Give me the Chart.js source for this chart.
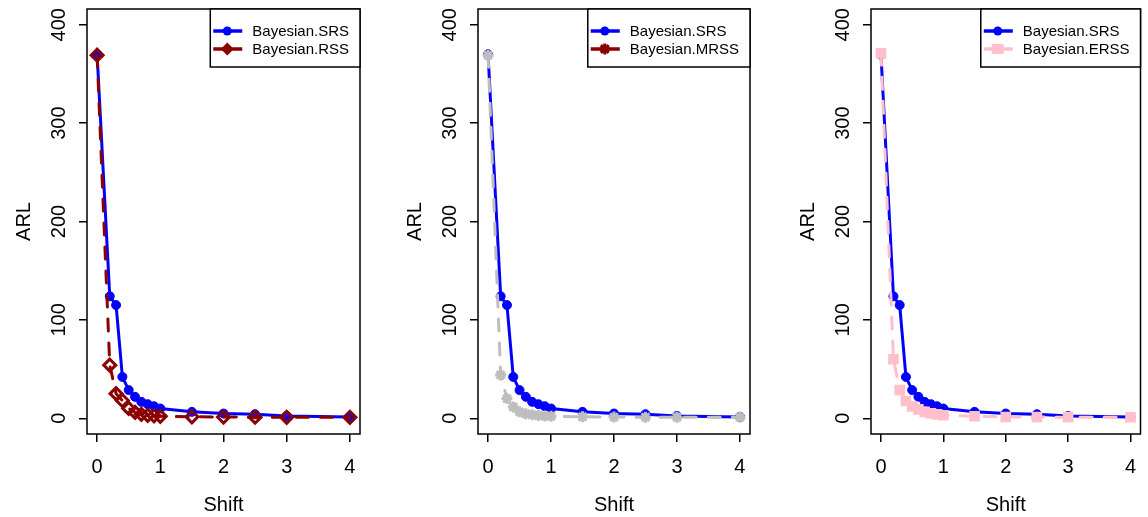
<!DOCTYPE html>
<html>
<head>
<meta charset="utf-8">
<script src="https://cdn.jsdelivr.net/npm/chart.js@4.4.1/dist/chart.umd.min.js"></script>
<style>
  html, body { margin: 0; padding: 0; background: #fff; }
  body { width: 1148px; height: 517px; position: relative; overflow: hidden; }
  .panel { position: absolute; top: 0; height: 517px; }
</style>
</head>
<body>
<div class="panel" style="left:0;width:383px"><canvas id="c1"></canvas></div>
<div class="panel" style="left:383px;width:383px"><canvas id="c2"></canvas></div>
<div class="panel" style="left:766px;width:382px"><canvas id="c3"></canvas></div>
<script>
// shift values and ARL
const shift   = [0, 0.2, 0.3, 0.4, 0.5, 0.6, 0.7, 0.8, 0.9, 1, 1.5, 2, 2.5, 3, 4];
const arlSRS  = [370, 124, 115, 42, 28.6, 21.8, 16.7, 14.3, 12.2, 9.9, 6.5, 4.8, 4.1, 2.4, 1.4];
const arlRSS  = [369, 54, 25, 18, 10, 6, 4, 3, 2.5, 2, 1.5, 1.2, 1.1, 1.0, 1.0];
const arlMRSS = [369, 44, 20, 11.5, 6.5, 4.5, 3.5, 2.8, 2.3, 2, 1.5, 1.2, 1.1, 1.0, 1.0];
const arlERSS = [371, 60, 28.6, 17.5, 12, 9, 6.5, 5, 4, 3, 2, 1.3, 1.2, 1.1, 1.0];

const xTicks = [0, 1, 2, 3, 4];
const yTicks = [0, 100, 200, 300, 400];
const xTitle = "Shift";
const yTitle = "ARL";

const FONT = '"Liberation Sans", Arial, sans-serif';

function drawMarker(ctx, kind, x, y, color) {
  ctx.save();
  ctx.fillStyle = color;
  ctx.strokeStyle = color;
  ctx.beginPath();
  if (kind === "circle") {
    ctx.arc(x, y, 4.5, 0, Math.PI * 2);
    ctx.fill();
  } else if (kind === "diamond") {
    ctx.moveTo(x, y - 6.5); ctx.lineTo(x + 6.5, y); ctx.lineTo(x, y + 6.5); ctx.lineTo(x - 6.5, y);
    ctx.closePath();
    ctx.fill();
  } else if (kind === "star") {
    ctx.lineWidth = 3;
    const r = 5.5, d = r * Math.SQRT1_2;
    ctx.moveTo(x - r, y); ctx.lineTo(x + r, y);
    ctx.moveTo(x, y - r); ctx.lineTo(x, y + r);
    ctx.moveTo(x - d, y - d); ctx.lineTo(x + d, y + d);
    ctx.moveTo(x - d, y + d); ctx.lineTo(x + d, y - d);
    ctx.stroke();
  } else if (kind === "square") {
    ctx.fillRect(x - 6, y - 5, 12, 10);
  }
  ctx.restore();
}

// box, tick labels, axis titles and legend, like base R graphics
const framePlugin = {
  id: "frame",
  afterDraw(chart) {
    const ctx = chart.ctx;
    const ca = chart.chartArea;
    const xs = chart.scales.x, ys = chart.scales.y;
    ctx.save();
    ctx.strokeStyle = "#000";
    ctx.lineWidth = 1.5;
    ctx.strokeRect(ca.left, ca.top, ca.right - ca.left, ca.bottom - ca.top);

    ctx.fillStyle = "#000";
    ctx.font = "20px " + FONT;
    ctx.textAlign = "center";
    ctx.textBaseline = "alphabetic";
    xTicks.forEach((v) => {
      ctx.fillText(String(v), xs.getPixelForValue(v), 473);
    });
    yTicks.forEach((v) => {
      ctx.save();
      ctx.translate(ca.left - 22, ys.getPixelForValue(v));
      ctx.rotate(-Math.PI / 2);
      ctx.fillText(String(v), 0, 0);
      ctx.restore();
    });

    ctx.font = "20px " + FONT;
    ctx.fillText(xTitle, (ca.left + ca.right) / 2, 511);
    ctx.save();
    ctx.translate(ca.left - 57, (ca.top + ca.bottom) / 2);
    ctx.rotate(-Math.PI / 2);
    ctx.fillText(yTitle, 0, 0);
    ctx.restore();

    // legend
    const entries = chart.options.plugins.frame.entries;
    ctx.font = "15px " + FONT;
    const maxW = Math.max(...entries.map((e) => ctx.measureText(e.label).width));
    const textX = ca.right - 11 - maxW;
    const boxL = textX - 42;
    ctx.fillStyle = "#fff";
    ctx.fillRect(boxL, ca.top, ca.right - boxL, 58);
    ctx.strokeStyle = "#000";
    ctx.lineWidth = 1.5;
    ctx.strokeRect(boxL, ca.top, ca.right - boxL, 58);
    entries.forEach((e, i) => {
      const yy = ca.top + 22 + i * 18;
      ctx.strokeStyle = e.color;
      ctx.lineWidth = 3.5;
      ctx.beginPath();
      ctx.moveTo(textX - 39, yy);
      ctx.lineTo(textX - 10, yy);
      ctx.stroke();
      drawMarker(ctx, e.marker, textX - 25, yy, e.color);
      ctx.fillStyle = "#000";
      ctx.textAlign = "left";
      ctx.textBaseline = "middle";
      ctx.fillText(e.label, textX, yy + 1);
    });
    ctx.restore();
  },
};

function points(values) {
  return shift.map((x, i) => ({ x: x, y: values[i] }));
}

function makePanel(canvasId, boxLeft, padRight, other) {
  const srs = {
    label: "Bayesian.SRS",
    data: points(arlSRS),
    borderColor: "#0000FF",
    backgroundColor: "#0000FF",
    borderWidth: 3,
    pointStyle: "circle",
    pointRadius: 4.5,
    pointBorderWidth: 1,
    pointBackgroundColor: "#0000FF",
    pointBorderColor: "#0000FF",
    tension: 0,
    order: 2,
  };
  const second = {
    label: other.label,
    data: points(other.values),
    borderColor: other.color,
    backgroundColor: other.fill,
    borderWidth: 3,
    borderDash: [12, 12],
    borderCapStyle: "round",
    pointStyle: other.pointStyle,
    pointRadius: other.radius,
    pointBorderWidth: other.pointBorder,
    pointBackgroundColor: other.fill,
    pointBorderColor: other.color,
    tension: 0,
    order: 1,
  };

  new Chart(document.getElementById(canvasId), {
    type: "line",
    data: { datasets: [srs, second] },
    options: {
      responsive: true,
      maintainAspectRatio: false,
      animation: false,
      events: [],
      layout: { padding: { top: 9, right: padRight, left: 0, bottom: 0 } },
      plugins: {
        legend: { display: false },
        tooltip: { enabled: false },
        frame: {
          entries: [
            { label: "Bayesian.SRS", color: "#0000FF", marker: "circle" },
            { label: other.label, color: other.legendColor, marker: other.legendMarker },
          ],
        },
      },
      scales: {
        x: {
          type: "linear",
          min: -0.16,
          max: 4.16,
          afterBuildTicks: (s) => { s.ticks = xTicks.map((v) => ({ value: v })); },
          afterFit: (s) => { s.height = 83; },
          grid: { drawOnChartArea: false, drawTicks: true, tickLength: 8, color: "#000", lineWidth: 1.5 },
          border: { display: false },
          ticks: { display: false },
        },
        y: {
          type: "linear",
          min: -16,
          max: 416,
          afterBuildTicks: (s) => { s.ticks = yTicks.map((v) => ({ value: v })); },
          afterFit: (s) => { s.width = boxLeft; },
          grid: { drawOnChartArea: false, drawTicks: true, tickLength: 8, color: "#000", lineWidth: 1.5 },
          border: { display: false },
          ticks: { display: false },
        },
      },
    },
    plugins: [framePlugin],
  });
}

makePanel("c1", 87, 23, {
  label: "Bayesian.RSS", values: arlRSS, color: "#8B0000", fill: "rgba(0,0,0,0)",
  pointStyle: "rectRot", radius: 6, pointBorder: 3,
  legendColor: "#8B0000", legendMarker: "diamond",
});
makePanel("c2", 95, 16, {
  label: "Bayesian.MRSS", values: arlMRSS, color: "#BEBEBE", fill: "#BEBEBE",
  pointStyle: "star", radius: 5.5, pointBorder: 3,
  legendColor: "#8B0000", legendMarker: "star",
});
makePanel("c3", 105, 6, {
  label: "Bayesian.ERSS", values: arlERSS, color: "#FFC0CB", fill: "#FFC0CB",
  pointStyle: "rect", radius: 7.5, pointBorder: 0,
  legendColor: "#FFC0CB", legendMarker: "square",
});
</script>
</body>
</html>
